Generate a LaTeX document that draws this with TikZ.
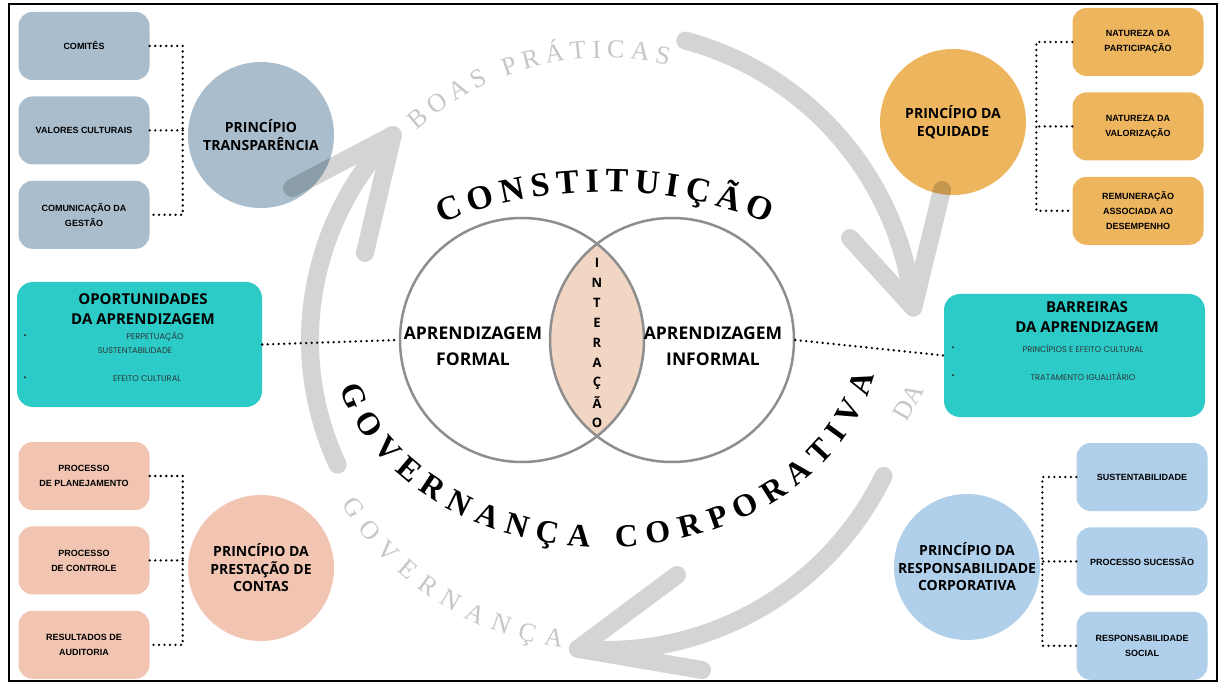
\documentclass[tikz,border=0pt]{standalone}
\usepackage{fontspec}
\setmainfont{Open Sans}
\newfontfamily\boxfont{Liberation Sans}
\newfontfamily\itemfont{Poppins}
\newfontfamily\arcfont{Liberation Serif}
\usepackage{tikz}
\usetikzlibrary{positioning,shapes,decorations.text}

\definecolor{transpcol}{HTML}{A9BDCD}
\definecolor{equicol}{HTML}{EEB55F}
\definecolor{prestcol}{HTML}{F2C5B3}
\definecolor{respcol}{HTML}{AFCFEA}
\definecolor{tealcol}{HTML}{2DCBC7}
\definecolor{lenscol}{HTML}{F1D6C3}
\definecolor{venncol}{HTML}{8E8E8E}
\definecolor{ringcol}{HTML}{C6C6C6}
\definecolor{itemcol}{HTML}{2A3838}

\begin{document}
\begin{tikzpicture}[%
        x=1pt, y=1pt,
        node distance=16pt,
        princ/.style={%
          circle,
          minimum size=146pt,
          inner sep=0pt,
          align=center,
          font=\bfseries\fontsize{14}{17.5}\selectfont
        },
        item/.style={%
          rounded corners=14pt,
          minimum width=131pt,
          minimum height=68pt,
          inner sep=2pt,
          align=center,
          font=\boxfont\bfseries\fontsize{9}{15}\selectfont
        },
        vennc/.style={circle, draw=venncol, line width=2.5pt, minimum size=244pt},
        tealbox/.style={rounded corners=16pt, fill=tealcol},
        ttl/.style={align=center, font=\bfseries\fontsize{15}{20}\selectfont},
        bul/.style={font=\itemfont\fontsize{8.3}{10}\selectfont, text=itemcol},
        conn/.style={line width=2.6pt, dash pattern=on 0pt off 5.5pt, line cap=round},
        seta/.style={line width=18pt, line cap=round, line join=round},
        ringtxt/.style={font=\arcfont\fontsize{26}{26}\selectfont, text=ringcol}
      ]
      \useasboundingbox (0,0) rectangle (1223,-684);
      \draw[line width=2pt] (9,-4) rectangle (1217,-681);
      \coordinate (ctr) at (605,-340);

      % venn
      \begin{scope}
        \clip (522,-340) circle (122);
        \fill[lenscol] (672,-340) circle (122);
      \end{scope}
      \node[vennc] (formal) at (522,-340) {};
      \node[vennc] (informal) at (672,-340) {};
      \node[align=center, font=\bfseries\fontsize{17.5}{26}\selectfont] (lform) at (473,-346) {APRENDIZAGEM\\FORMAL};
      \node[align=center, font=\bfseries\fontsize{17.5}{26}\selectfont] (linf) at (713,-346) {APRENDIZAGEM\\INFORMAL};
      \foreach \ch [count=\i] in {I,N,T,E,R,A,Ç,Ã,O}
        \node[font=\bfseries\fontsize{13}{13}\selectfont] (int\i) at (597,-243-20*\i) {\ch};

      % principles
      \node[princ, fill=transpcol] (transp) at (261,-135) {PRINCÍPIO\\TRANSPARÊNCIA};
      \node[princ, fill=equicol] (equid) at (953,-122) {PRINCÍPIO DA\\EQUIDADE};
      \node[princ, fill=prestcol] (prest) at (261,-568) {PRINCÍPIO DA\\PRESTAÇÃO DE\\CONTAS};
      \node[princ, fill=respcol] (resp) at (967,-567) {PRINCÍPIO DA\\RESPONSABILIDADE\\CORPORATIVA};

      \node[item, fill=transpcol] (comites) at (84,-46) {COMITÊS};
      \node[item, fill=transpcol] (valores) [below=of comites] {VALORES CULTURAIS};
      \node[item, fill=transpcol] (comun) [below=of valores] {COMUNICAÇÃO DA\\GESTÃO};

      \node[item, fill=equicol] (natpart) at (1138,-42) {NATUREZA DA\\PARTICIPAÇÃO};
      \node[item, fill=equicol] (natval) [below=of natpart] {NATUREZA DA\\VALORIZAÇÃO};
      \node[item, fill=equicol] (remun) [below=of natval] {REMUNERAÇÃO\\ASSOCIADA AO\\DESEMPENHO};

      \node[item, fill=prestcol] (planej) at (84,-476) {PROCESSO\\DE PLANEJAMENTO};
      \node[item, fill=prestcol] (control) [below=of planej] {PROCESSO\\DE CONTROLE};
      \node[item, fill=prestcol] (audit) [below=of control] {RESULTADOS DE\\AUDITORIA};

      \node[item, fill=respcol] (sust) at (1142,-477) {SUSTENTABILIDADE};
      \node[item, fill=respcol] (suces) [below=of sust] {PROCESSO SUCESSÃO};
      \node[item, fill=respcol] (social) [below=of suces] {RESPONSABILIDADE\\SOCIAL};

      % learning boxes
      \node[tealbox, minimum width=245pt, minimum height=125pt] (oport) at (139.5,-344.5) {};
      \node[ttl] (oporttit) at (143,-309) {OPORTUNIDADES\\DA APRENDIZAGEM};
      \node[bul] (ob1) at (25,-337) {\textbullet};
      \node[bul] (ot1) at (155,-337) {PERPETUAÇÃO};
      \node[bul] (ot2) at (135,-351) {SUSTENTABILIDADE};
      \node[bul] (ob2) at (25,-379) {\textbullet};
      \node[bul] (ot3) at (147,-379) {EFEITO CULTURAL};

      \node[tealbox, minimum width=261pt, minimum height=123pt] (barr) at (1074.5,-355.5) {};
      \node[ttl] (barrtit) at (1087,-317) {BARREIRAS\\DA APRENDIZAGEM};
      \node[bul] (bb1) at (953,-349) {\textbullet};
      \node[bul] (bt1) at (1083,-349) {PRINCÍPIOS E EFEITO CULTURAL};
      \node[bul] (bb2) at (953,-377) {\textbullet};
      \node[bul] (bt2) at (1083,-377) {TRATAMENTO IGUALITÁRIO};

      % grey arrows
      \begin{scope}[transparency group, opacity=.17]
        \draw[seta] ([shift={(205:295)}]ctr) arc[start angle=205, end angle=136, radius=295] coordinate (tipa);
        \draw[seta] (292,-188) -- (tipa) -- (365,-253);
        \draw[seta] ([shift={(75:310)}]ctr) arc[start angle=75, end angle=6, radius=310] coordinate (tipb);
        \draw[seta] (850,-238) -- (tipb) -- (942,-190);
        \draw[seta] ([shift={(-26:310)}]ctr) arc[start angle=-26, end angle=-95, radius=310] coordinate (tipc);
        \draw[seta] (677,-575) -- (tipc) -- (702,-670);
      \end{scope}

      % connectors
      \draw[conn] (comites.east) -- ++(33,0) |- (comun.east);
      \draw[conn] (valores.east) -- ++(33,0);
      \draw[conn] (natpart.west) -- ++(-36,0) |- (remun.west);
      \draw[conn] (natval.west) -- ++(-36,0);
      \draw[conn] (planej.east) -- ++(33,0) |- (audit.east);
      \draw[conn] (control.east) -- ++(33,0);
      \draw[conn] (sust.west) -- ++(-34,0) |- (social.west);
      \draw[conn] (suces.west) -- ++(-34,0);
      \draw[conn] (oport.east) -- (formal.west);
      \draw[conn] (informal.east) -- (barr.west);

      % arc texts
      \path[decorate, decoration={text along path, text align=fit to path,
          text={|\arcfont\bfseries\fontsize{34}{34}\selectfont|CONSTITUIÇÃO}}]
        ([shift={(129:259 and 143)}]605,-335) arc[start angle=129, end angle=51, x radius=259, y radius=143];
      \path[decorate, decoration={text along path, text align=fit to path,
          text={|\arcfont\bfseries\fontsize{32}{32}\selectfont|GOVERNANÇA CORPORATIVA}}]
        ([shift={(194.5:274 and 212)}]605,-335) arc[start angle=194.5, end angle=349, x radius=274, y radius=212];
      \path[decorate, decoration={text along path, text align=fit to path, text color=ringcol,
          text={|\arcfont\fontsize{26}{26}\selectfont|BOAS PRÁTICAS}}]
        ([shift={(132:282)}]ctr) arc[start angle=132, end angle=77, radius=282];
      \path[decorate, decoration={text along path, text align=fit to path, text color=ringcol,
          text={|\arcfont\fontsize{26}{26}\selectfont|GOVERNANÇA}}]
        ([shift={(212:311)}]ctr) arc[start angle=212, end angle=262, radius=311];
      \node[ringtxt, rotate=60] (da) at (908,-402) {DA};
  \end{tikzpicture}
\end{document}
